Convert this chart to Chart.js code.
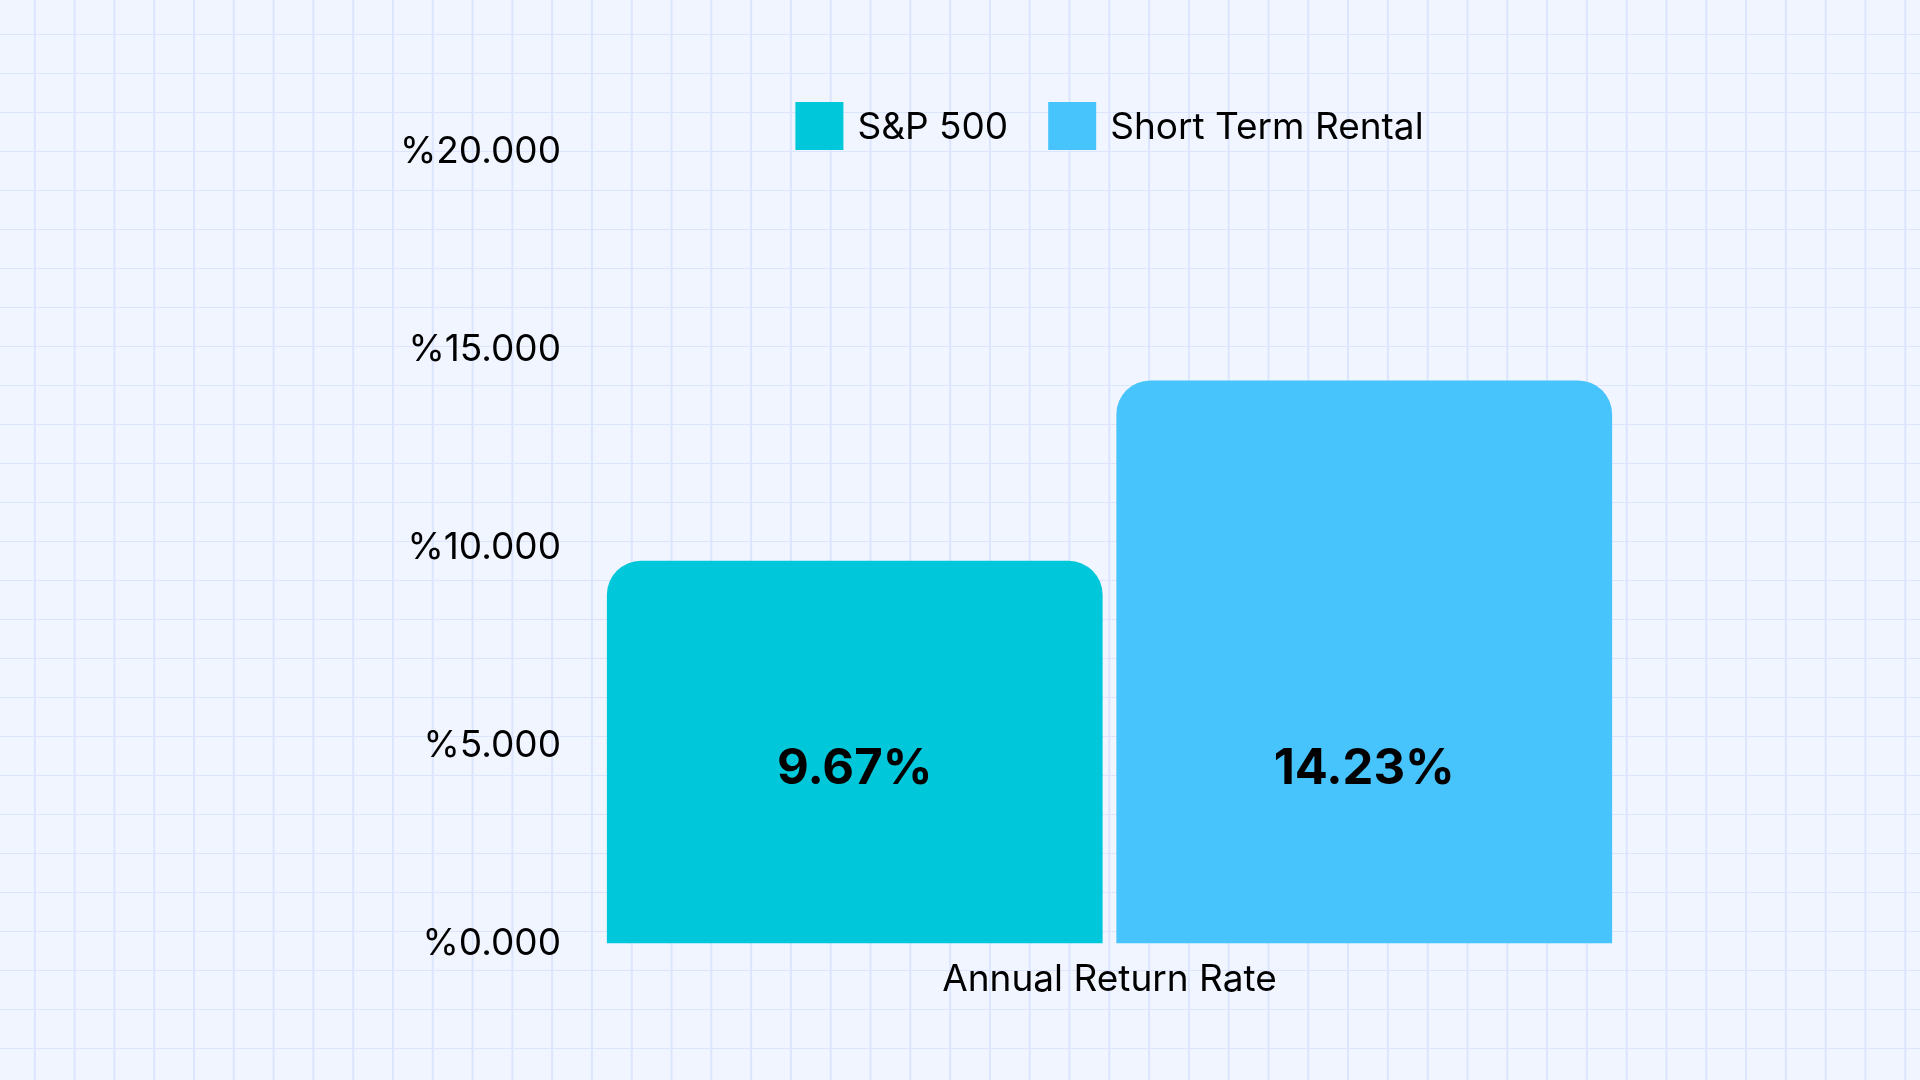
<!DOCTYPE html>
<html>
<head>
<meta charset="utf-8">
<script src="https://cdn.jsdelivr.net/npm/chart.js@4"></script>
<style>
  html, body { margin: 0; padding: 0; }
  body {
    width: 1920px; height: 1080px; overflow: hidden;
    background-color: #f1f5ff;
    background-image:
      linear-gradient(to right, #dbe5fd 1.5px, transparent 1.5px),
      linear-gradient(to bottom, #dbe5fd 1.5px, transparent 1.5px);
    background-size: 39.8px 39px;
    background-position: -6px -5px;
  }
  canvas { display: block; }
</style>
</head>
<body>
<canvas id="chart" width="1920" height="1080"></canvas>
<script>
const categories = ['Annual Return Rate'];
const seriesNames = ['S&P 500', 'Short Term Rental'];
const seriesValues = [[9.67], [14.23]];
const seriesColors = ['#00c8da', '#48c4fd'];
const yTicks = [0, 5, 10, 15, 20];

const FONT = 'Inter, "Noto Sans", sans-serif';

// legend and value labels drawn by hand
const customDraw = {
    id: 'customDraw',
    afterDatasetsDraw(chart) {
        const ctx = chart.ctx;
        const y = chart.scales.y;
        ctx.save();
        // value labels inside bars
        ctx.font = 'bold 49px ' + FONT;
        ctx.fillStyle = '#000';
        ctx.textAlign = 'center';
        ctx.textBaseline = 'middle';
        chart.data.datasets.forEach((ds, i) => {
            chart.getDatasetMeta(i).data.forEach((bar, j) => {
                ctx.fillText(ds.data[j].toFixed(2) + '%', bar.x, y.getPixelForValue(4.4));
            });
        });
        // legend
        ctx.font = '37px ' + FONT;
        ctx.textAlign = 'left';
        const box = 48, gap = 14, between = 40;
        const widths = seriesNames.map(n => box + gap + ctx.measureText(n).width);
        const total = widths.reduce((a, b) => a + b, 0) + between;
        let x = (chart.chartArea.left + chart.chartArea.right) / 2 - total / 2;
        const ly = 126;
        seriesNames.forEach((n, i) => {
            ctx.fillStyle = seriesColors[i];
            ctx.fillRect(x, ly - box / 2, box, box);
            ctx.fillStyle = '#000';
            ctx.fillText(n, x + box + gap, ly + 2);
            x += widths[i] + between;
        });
        ctx.restore();
    }
};

new Chart(document.getElementById('chart'), {
    type: 'bar',
    data: {
        labels: categories,
        datasets: seriesNames.map((n, i) => ({
            label: n,
            data: seriesValues[i],
            backgroundColor: seriesColors[i],
            borderRadius: { topLeft: 34, topRight: 34 },
            borderSkipped: 'bottom',
            categoryPercentage: 1,
            barPercentage: 0.973
        }))
    },
    options: {
        responsive: false,
        animation: false,
        devicePixelRatio: 1,
        layout: { padding: { left: 360, right: 301, top: 152, bottom: 72 } },
        plugins: { legend: { display: false }, tooltip: { enabled: false } },
        scales: {
            x: {
                grid: { display: false },
                border: { display: false },
                ticks: { color: '#000', font: { size: 37, family: FONT }, padding: 6 }
            },
            y: {
                min: 0, max: 20,
                afterFit(s) { s.width = 240; },
                afterBuildTicks(s) { s.ticks = yTicks.map(v => ({ value: v })); },
                grid: { display: false },
                border: { display: false },
                ticks: {
                    color: '#000', font: { size: 37, family: FONT }, padding: 31,
                    callback: v => '%' + v.toFixed(3)
                }
            }
        }
    },
    plugins: [customDraw]
});
</script>
</body>
</html>
